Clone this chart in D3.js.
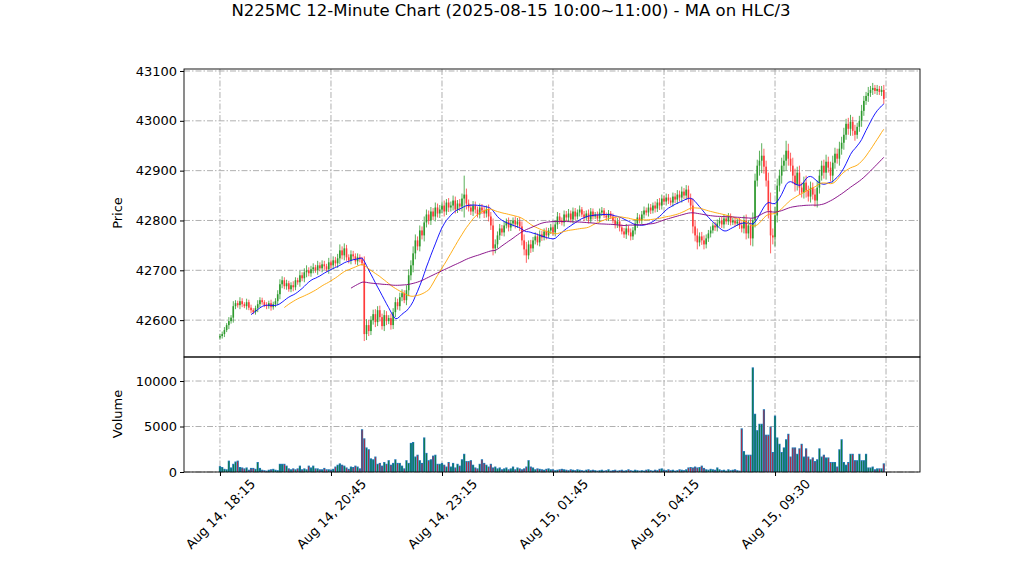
<!DOCTYPE html>
<html><head><meta charset="utf-8">
<script src="https://cdn.jsdelivr.net/npm/d3@7"></script>
<style>body{margin:0;background:#fff}text{font-family:"DejaVu Sans",sans-serif}</style>
</head><body><svg id="c" width="1022" height="575"></svg>
<script>
const closes=[42568,42572,42580,42590,42598,42605,42628,42634,42630,42638,
42632,42628,42636,42625,42620,42616,42624,42632,42640,42636,
42630,42628,42634,42626,42632,42638,42652,42672,42680,42668,
42674,42662,42670,42666,42680,42676,42690,42684,42696,42700,
42694,42702,42706,42700,42710,42704,42712,42708,42702,42716,
42710,42720,42714,42724,42740,42730,42744,42726,42720,42732,
42728,42718,42726,42722,42714,42572,42590,42578,42600,42612,
42596,42620,42606,42588,42610,42598,42604,42590,42616,42636,
42628,42646,42654,42640,42660,42690,42710,42734,42760,42748,
42780,42770,42796,42812,42800,42818,42808,42826,42814,42822,
42830,42818,42836,42826,42830,42840,42822,42834,42828,42844,
42852,42834,42826,42818,42830,42822,42812,42826,42820,42814,
42822,42808,42790,42744,42752,42770,42784,42776,42790,42798,
42786,42794,42800,42792,42798,42788,42760,42742,42730,42752,
42744,42760,42768,42756,42772,42766,42778,42770,42780,42786,
42776,42792,42808,42800,42796,42812,42806,42814,42802,42818,
42808,42816,42822,42812,42806,42814,42802,42818,42808,42812,
42804,42816,42820,42810,42806,42814,42808,42800,42792,42798,
42786,42778,42772,42784,42776,42768,42780,42794,42806,42800,
42812,42820,42816,42826,42820,42830,42824,42836,42830,42844,
42838,42846,42840,42836,42848,42842,42852,42846,42858,42850,
42862,42844,42830,42788,42770,42756,42768,42760,42752,42764,
42774,42780,42790,42786,42794,42800,42792,42804,42798,42808,
42796,42800,42794,42798,42790,42784,42800,42774,42790,42764,
42800,42880,42910,42920,42930,42908,42880,42820,42770,42766,
42810,42870,42890,42910,42920,42940,42924,42910,42890,42872,
42896,42866,42856,42876,42860,42848,42866,42852,42840,42866,
42890,42910,42896,42918,42906,42890,42916,42934,42924,42944,
42956,42972,42994,42984,42998,42980,42972,42988,43000,43020,
43040,43050,43056,43062,43066,43060,43064,43058,43062,43044];
const firstOpen=42565;
const wicks=[4,5,6,4,8,5,10,6,5,8,6,4,7,5,6,4,5,8,6,5,4,6,5,7,5,6,8,10,8,6,
7,5,6,8,6,5,9,6,8,10,6,7,8,5,9,6,8,7,5,9,6,8,7,9,12,8,10,7,6,8,
7,6,8,6,5,14,12,10,8,9,10,8,9,7,10,8,6,9,8,10,7,9,8,6,10,12,10,14,12,8,
10,8,12,10,8,9,7,10,8,9,8,10,7,9,8,10,8,7,9,10,38,12,8,7,9,8,6,8,7,9,
8,10,9,14,10,8,9,7,8,6,8,7,6,8,7,9,10,12,15,8,9,7,8,6,8,7,6,8,5,7,
6,8,9,7,6,8,7,9,6,8,7,6,8,5,7,6,8,7,6,5,6,8,7,5,6,7,5,6,8,7,
8,6,7,9,6,8,7,8,9,6,7,8,6,8,7,6,8,7,9,8,6,8,7,6,8,7,9,8,10,7,
9,8,10,14,12,14,8,9,10,8,7,8,6,7,8,6,7,8,6,7,6,5,6,5,7,8,10,12,10,14,
16,14,12,20,25,14,12,16,36,14,18,14,12,16,12,20,14,12,16,14,
12,14,10,12,14,10,12,10,12,14,12,10,12,14,10,12,14,12,10,14,
12,14,10,12,14,10,12,8,10,12,10,8,12,8,10,6,8,6,8,10];
const volumes=[650,550,350,300,1250,500,900,1150,1250,550,
500,400,500,250,450,450,350,1100,450,250,
200,150,250,300,350,250,200,900,900,900,
700,400,300,400,300,400,700,300,400,300,
700,500,700,400,400,300,300,450,300,300,
250,350,600,800,950,800,700,500,350,600,
550,700,600,400,4700,3700,2700,2500,1500,1400,
1700,900,1000,700,1100,900,1300,800,1000,1400,
1000,1000,700,400,1300,1000,3200,3300,1700,1900,
1300,1000,3800,2100,1300,1400,1800,1900,900,900,
1000,800,600,1100,600,1000,500,900,700,1400,
2000,1200,1200,1300,800,500,400,900,1400,1000,
800,600,900,500,600,400,500,300,400,500,
300,400,600,300,500,400,300,400,600,1300,
600,500,300,400,350,300,250,350,400,300,
300,200,250,300,350,300,250,200,300,250,
200,300,250,200,150,250,300,200,250,200,
150,200,250,150,200,300,150,200,250,150,
200,250,150,200,300,200,150,250,200,150,
200,150,250,300,200,150,250,200,350,400,
250,200,300,200,250,150,200,300,250,200,
300,500,550,500,600,500,550,700,450,300,
250,350,300,250,500,300,200,250,150,300,
200,250,300,200,150,4800,2300,1900,1900,1900,
11500,6400,4600,5300,5300,6900,4100,4100,5000,2200,
6200,3800,3100,2200,2700,3600,4200,1700,2700,2700,
2000,2600,3100,1700,2600,1700,1400,1600,1200,1400,
2600,1700,1900,1600,1600,1100,1100,1100,600,2500,
3600,1100,800,1100,2000,2000,1300,1300,2000,1300,
1300,2000,500,500,600,300,400,400,400,950];
const tickIdx=[0,50,100,150,200,250,300];
const tickLabels=["Aug 14, 18:15","Aug 14, 20:45","Aug 14, 23:15","Aug 15, 01:45","Aug 15, 04:15","Aug 15, 09:30",""];
const priceTicks=[42600,42700,42800,42900,43000,43100];
const volTicks=[0,5000,10000];
const maWindows=[15,30,60];
const maColors=["#0000ff","#ffa500","#800080"];

const svg=d3.select("#c");
const L=184,R=920,PT=69,PB=357,VB=472;
const x=d3.scaleLinear().domain([-16.2,315.3]).range([L,R]);
const y=d3.scaleLinear().domain([42526,43104]).range([PB,PT]);
const yv=d3.scaleLinear().domain([0,12640]).range([VB,PB]);
const data=closes.map((c,i)=>{const o=i?closes[i-1]:firstOpen;const w=wicks[i];
 return {i,o,c,h:Math.max(o,c)+w,l:Math.min(o,c)-w,v:volumes[i]};});

const grid="#b0b0b0",dash="6,2,1.5,2";
function vgrid(y0,y1){tickIdx.forEach(t=>svg.append("line").attr("x1",x(t)).attr("x2",x(t)).attr("y1",y0).attr("y2",y1).attr("stroke",grid).attr("stroke-dasharray",dash));}
vgrid(PT,PB);vgrid(PB,VB);
priceTicks.forEach(t=>svg.append("line").attr("x1",L).attr("x2",R).attr("y1",y(t)).attr("y2",y(t)).attr("stroke",grid).attr("stroke-dasharray",dash));
volTicks.forEach(t=>svg.append("line").attr("x1",L).attr("x2",R).attr("y1",yv(t)).attr("y2",yv(t)).attr("stroke",grid).attr("stroke-dasharray",dash));

const up="#2e9a2e",dn="#ff3a3a";
const cg=svg.append("g");
data.forEach(d=>{const col=d.c>=d.o?up:dn;
 cg.append("line").attr("x1",x(d.i)).attr("x2",x(d.i)).attr("y1",y(d.h)).attr("y2",y(d.l)).attr("stroke",col).attr("stroke-width",0.8);
 const t=y(Math.max(d.o,d.c)),b=y(Math.min(d.o,d.c));
 cg.append("rect").attr("x",x(d.i)-0.8).attr("width",1.6).attr("y",t).attr("height",Math.max(0.6,b-t)).attr("fill",col);});
const hlc=data.map(d=>(d.h+d.l+d.c)/3);
maWindows.forEach((w,k)=>{const pts=[];for(let i=w-1;i<hlc.length;i++){pts.push([i,d3.mean(hlc.slice(i-w+1,i+1))]);}
 svg.append("path").attr("d",d3.line().x(p=>x(p[0])).y(p=>y(p[1]))(pts)).attr("fill","none").attr("stroke",maColors[k]).attr("stroke-width",0.9);});
data.forEach(d=>{const bx=x(d.i)-1.1;
 svg.append("rect").attr("x",bx).attr("width",2.2).attr("y",yv(d.v)).attr("height",VB-yv(d.v)).attr("fill","#1f77b4");
 svg.append("rect").attr("x",x(d.i)-0.3).attr("width",0.6).attr("y",yv(d.v)+1).attr("height",Math.max(0,VB-yv(d.v)-1)).attr("fill",d.c>=d.o?"#008000":"#ff0000");});

[[PT,PB],[PB,VB]].forEach(([a,b])=>svg.append("rect").attr("x",L).attr("y",a).attr("width",R-L).attr("height",b-a).attr("fill","none").attr("stroke","#000").attr("stroke-width",0.9));
const ay=svg.append("g").attr("transform",`translate(${L},0)`).call(d3.axisLeft(y).tickValues(priceTicks).tickSize(4).tickFormat(d3.format("d")));
const av=svg.append("g").attr("transform",`translate(${L},0)`).call(d3.axisLeft(yv).tickValues(volTicks).tickSize(4).tickFormat(d3.format("d")));
const ax=svg.append("g").attr("transform",`translate(0,${VB})`).call(d3.axisBottom(x).tickValues(tickIdx).tickSize(4).tickFormat((d,i)=>tickLabels[i]));
[ay,av,ax].forEach(g=>{g.select(".domain").remove();g.selectAll("text").attr("font-size",13).attr("fill","#000");});
ax.selectAll("text").attr("text-anchor","middle").attr("y",0).attr("dy","0.35em").attr("transform","translate(0,42) rotate(-45)");
svg.append("text").attr("x",511).attr("y",16).attr("text-anchor","middle").attr("font-size",16.5).text("N225MC 12-Minute Chart (2025-08-15 10:00~11:00) - MA on HLC/3");
svg.append("text").attr("transform","translate(122,213) rotate(-90)").attr("text-anchor","middle").attr("font-size",13).text("Price");
svg.append("text").attr("transform","translate(122,414) rotate(-90)").attr("text-anchor","middle").attr("font-size",13).text("Volume");
</script></body></html>
